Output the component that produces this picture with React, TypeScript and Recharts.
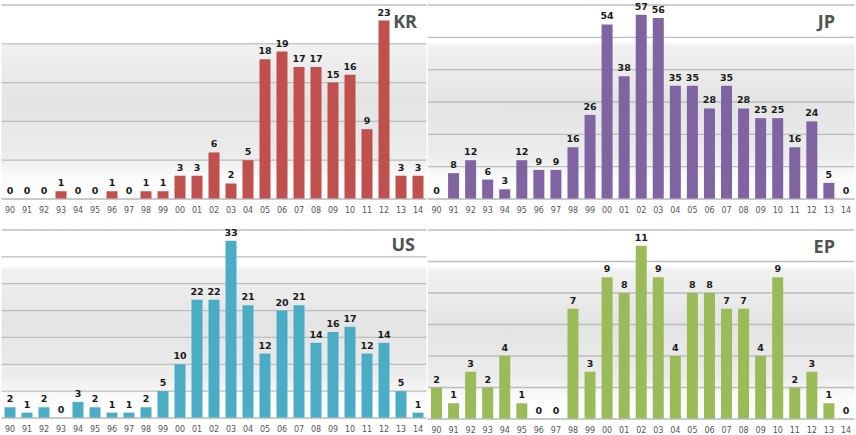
import { ComposedChart, Bar, Line, XAxis, YAxis, CartesianGrid, LabelList } from "recharts";

const years = ["90", "91", "92", "93", "94", "95", "96", "97", "98", "99", "00", "01", "02", "03", "04", "05", "06", "07", "08", "09", "10", "11", "12", "13", "14"];

const kr = [0, 0, 0, 1, 0, 0, 1, 0, 1, 1, 3, 3, 6, 2, 5, 18, 19, 17, 17, 15, 16, 9, 23, 3, 3];
const jp = [0, 8, 12, 6, 3, 12, 9, 9, 16, 26, 54, 38, 57, 56, 35, 35, 28, 35, 28, 25, 25, 16, 24, 5, 0];
const us = [2, 1, 2, 0, 3, 2, 1, 1, 2, 5, 10, 22, 22, 33, 21, 12, 20, 21, 14, 16, 17, 12, 14, 5, 1];
const ep = [2, 1, 3, 2, 4, 1, 0, 0, 7, 3, 9, 8, 11, 9, 4, 8, 8, 7, 7, 4, 9, 2, 3, 1, 0];

const krTicks = [0, 5, 10, 15, 20, 25];
const jpTicks = [0, 10, 20, 30, 40, 50, 60];
const usTicks = [0, 5, 10, 15, 20, 25, 30, 35];
const epTicks = [0, 2, 4, 6, 8, 10, 12];

type PanelProps = {
  id: string;
  title: string;
  values: number[];
  ticks: number[];
  color: string;
  left: number;
  top: number;
  height: number;
  marginTop: number;
  axisHeight: number;
  marginLeft: number;
  titleX: number;
  titleY: number;
};

// labels hang off an invisible line so zero bars still get their "0"
const renderValue = (props: any) => {
  const { x, y, value } = props;
  return (
    <text
      x={Number(x)}
      y={Number(y) - 5}
      textAnchor="middle"
      fill="#1a1a1a"
      fontSize={9.5}
      fontWeight="bold"
      fontFamily="DejaVu Sans"
    >
      {String(value)}
    </text>
  );
};

function Panel(p: PanelProps) {
  const data = years.map((y, i) => ({ year: y, value: p.values[i] }));
  const max = p.ticks[p.ticks.length - 1];
  return (
    <div style={{ position: "absolute", left: p.left, top: p.top }}>
      <ComposedChart
        width={428}
        height={p.height}
        data={data}
        margin={{ top: p.marginTop, right: 1.5, left: p.marginLeft, bottom: 0 }}
        barCategoryGap={0}
      >
        <defs>
          <linearGradient id={"bg-" + p.id} x1="0" y1="0" x2="0" y2="1">
            <stop offset="0%" stopColor="#ffffff" />
            <stop offset="19%" stopColor="#ffffff" />
            <stop offset="21%" stopColor="#f1f1f1" />
            <stop offset="50%" stopColor="#e4e4e4" />
            <stop offset="78%" stopColor="#ececec" />
            <stop offset="88%" stopColor="#fafafa" />
            <stop offset="100%" stopColor="#ffffff" />
          </linearGradient>
        </defs>
        <CartesianGrid
          vertical={false}
          stroke="#bdbdbd"
          strokeWidth={1.3}
          fill={"url(#bg-" + p.id + ")"}
          fillOpacity={1}
        />
        <XAxis
          dataKey="year"
          height={p.axisHeight}
          interval={0}
          tickLine={false}
          axisLine={{ stroke: "#c6c6c6" }}
          tick={{ fill: "#555555", fontSize: 8, fontFamily: "DejaVu Sans" }}
        />
        <YAxis
          domain={[0, max]}
          ticks={p.ticks}
          width={0}
          tick={{ fill: "transparent", fontSize: 1 }}
          axisLine={false}
          tickLine={false}
        />
        <Bar dataKey="value" fill={p.color} barSize={11} isAnimationActive={false} />
        <Line
          dataKey="value"
          stroke="none"
          dot={false}
          activeDot={false}
          isAnimationActive={false}
        >
          <LabelList dataKey="value" content={renderValue} />
        </Line>
      </ComposedChart>
      <svg
        width={428}
        height={p.height}
        style={{ position: "absolute", left: 0, top: 0, pointerEvents: "none" }}
      >
        <text
          x={p.titleX}
          y={p.titleY}
          textAnchor="end"
          fontFamily="Open Sans"
          fontWeight="bold"
          fontSize={18}
          fill="#4f544f"
        >
          {p.title}
        </text>
      </svg>
    </div>
  );
}

export default function App() {
  return (
    <div style={{ position: "absolute", left: 0, top: 0, width: 856, height: 435, background: "#fff" }}>
      <Panel id="kr" title="KR" values={kr} ticks={krTicks} color="#c0504d" left={0} top={0} height={218} marginTop={5} axisHeight={19} marginLeft={1.5} titleX={417} titleY={28} />
      <Panel id="jp" title="JP" values={jp} ticks={jpTicks} color="#8064a2" left={428} top={0} height={218} marginTop={5} axisHeight={19} marginLeft={0} titleX={407} titleY={28} />
      <Panel id="us" title="US" values={us} ticks={usTicks} color="#4bacc6" left={0} top={218} height={217} marginTop={12} axisHeight={17} marginLeft={1.5} titleX={415} titleY={33} />
      <Panel id="ep" title="EP" values={ep} ticks={epTicks} color="#9bbb59" left={428} top={218} height={217} marginTop={12} axisHeight={16} marginLeft={0} titleX={407} titleY={35} />
    </div>
  );
}
